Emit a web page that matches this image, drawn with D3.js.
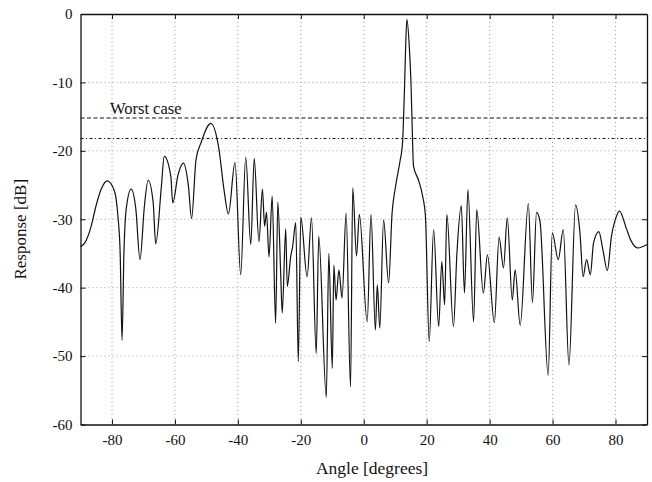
<!DOCTYPE html>
<html>
<head>
<meta charset="utf-8">
<script src="https://cdn.jsdelivr.net/npm/d3@7"></script>
<style>
  html, body { margin: 0; padding: 0; background: #fff; }
  svg { display: block; }
  svg text { font-family: "Times New Roman", "Liberation Serif", Times, serif; fill: #111; }
</style>
</head>
<body>
<svg id="chart" width="652" height="482"></svg>
<script>
// ---- data ----
const angles = [
  -90, -88.7, -86.6, -85.1, -83.5, -81.5, -79.2, -78.1, -77.4, -76.8,
  -76.2, -75.5, -73.9, -72.4, -71.1, -69.7, -68.5, -66.9, -66.1, -64.3,
  -63.4, -61.3, -60.7, -59.0, -57.3, -55.7, -54.7, -53.3, -51.7, -48.6,
  -46.0, -44.4, -43.0, -40.9, -39.1, -37.5, -35.9, -34.8, -33.3, -32.2,
  -31.5, -30.9, -30.1, -29.1, -28.0, -27.3, -26.4, -25.9, -24.8, -24.3,
  -23.2, -22.6, -21.6, -20.8, -20.0, -18.0, -16.6, -15.1, -14.3, -11.9,
  -11.1, -10.0, -9.5, -8.8, -7.9, -6.9, -5.6, -4.2, -3.5, -2.3,
  -1.4, 1.1, 2.3, 3.7, 4.3, 5.1, 6.3, 7.9, 9.0, 10.0,
  11.6, 12.3, 13.0, 13.3, 13.7, 14.5, 15.0, 15.3, 15.8, 17.4,
  18.7, 19.6, 20.8, 22.2, 23.8, 24.8, 25.7, 26.4, 28.5, 29.6,
  31.0, 32.0, 33.1, 34.9, 35.9, 38.0, 39.3, 41.5, 43.0, 44.4,
  45.6, 47.2, 48.1, 49.7, 52.3, 53.6, 54.9, 56.0, 58.6, 59.9,
  61.8, 63.4, 65.2, 67.3, 68.7, 69.7, 70.8, 72.0, 73.0, 74.7,
  76.0, 77.4, 78.7, 79.9, 81.3, 83.4, 85.0, 87.1, 90
];
const responseDb = [
  -34.0, -33.5, -31.0, -28.1, -25.7, -24.4, -25.9, -29.6, -34.9, -47.7,
  -34.9, -28.6, -25.6, -28.6, -35.9, -28.1, -24.3, -27.6, -33.6, -25.2,
  -20.8, -23.7, -27.6, -23.5, -21.8, -25.2, -29.9, -21.3, -18.8, -16.0,
  -19.8, -25.7, -29.2, -21.7, -38.1, -20.9, -33.7, -21.1, -33.3, -25.6,
  -31.0, -29.0, -35.5, -26.6, -45.2, -27.5, -37.8, -43.7, -31.4, -39.8,
  -35.4, -34.0, -30.5, -50.8, -29.7, -38.4, -29.8, -49.6, -32.5, -56.0,
  -35.0, -51.8, -36.7, -41.8, -37.4, -41.5, -29.1, -54.5, -25.4, -35.4,
  -29.3, -45.0, -29.3, -46.2, -39.6, -45.9, -30.1, -39.3, -29.1, -25.5,
  -21.3, -19.0, -10.0, -5.0, -0.8, -5.0, -10.0, -14.9, -22.2, -24.3,
  -26.6, -29.6, -47.9, -31.5, -45.7, -36.2, -42.5, -29.3, -45.7, -35.0,
  -28.0, -40.8, -25.7, -45.0, -28.6, -40.8, -35.2, -45.1, -32.6, -37.1,
  -29.8, -41.8, -37.4, -45.5, -27.7, -42.2, -29.0, -30.3, -52.8, -32.0,
  -35.9, -31.5, -51.3, -27.9, -32.0, -38.4, -35.9, -38.1, -33.5, -31.8,
  -34.5, -37.5, -32.5, -30.1, -28.8, -31.3, -33.2, -34.2, -33.7
];
const xTicks = [-80, -60, -40, -20, 0, 20, 40, 60, 80];
const yTicks = [0, -10, -20, -30, -40, -50, -60];
const worstCaseDb = -15.2;
const secondLevelDb = -18.2;
const worstCaseLabel = "Worst case";
const xLabel = "Angle [degrees]";
const yLabel = "Response [dB]";

// ---- drawing ----
const FONT = '"Times New Roman", "Liberation Serif", Times, serif';
const svg = d3.select("#chart");
const L = 80.5, R = 647, T = 14, B = 424.5;

const x = d3.scaleLinear().domain([-90, 90]).range([L, R]);
const y = d3.scaleLinear().domain([-60, 0]).range([B, T]);

// grid
const grid = svg.append("g").attr("stroke", "#888").attr("stroke-width", 0.8)
  .attr("stroke-dasharray", "1,3");
xTicks.forEach(v => grid.append("line")
  .attr("x1", x(v)).attr("x2", x(v)).attr("y1", T).attr("y2", B));
yTicks.filter(v => v > -60 && v < 0).forEach(v => grid.append("line")
  .attr("x1", L).attr("x2", R).attr("y1", y(v)).attr("y2", y(v)));

// reference levels
svg.append("line")
  .attr("x1", L).attr("x2", R)
  .attr("y1", y(worstCaseDb)).attr("y2", y(worstCaseDb))
  .attr("stroke", "#111").attr("stroke-width", 1)
  .attr("stroke-dasharray", "4,2.5");
svg.append("line")
  .attr("x1", L).attr("x2", R)
  .attr("y1", y(secondLevelDb)).attr("y2", y(secondLevelDb))
  .attr("stroke", "#111").attr("stroke-width", 1)
  .attr("stroke-dasharray", "3,2.5,1,2.5");

svg.append("text")
  .attr("x", x(-80) - 2).attr("y", y(worstCaseDb) - 4)
  .attr("font-family", FONT).attr("font-size", 16.5)
  .text(worstCaseLabel);

// response curve
const pts = angles.map((a, i) => [a, responseDb[i]]);
const line = d3.line()
  .x(d => x(d[0])).y(d => y(d[1]))
  .curve(d3.curveMonotoneX);
svg.append("path")
  .datum(pts)
  .attr("d", line)
  .attr("fill", "none")
  .attr("stroke", "#111")
  .attr("stroke-width", 1.2);

// axes (box with inward ticks)
const fmt = d => String(d);
const xAxisB = d3.axisBottom(x).tickValues(xTicks).tickFormat(fmt).tickSizeInner(-5).tickSizeOuter(0).tickPadding(10);
const xAxisT = d3.axisTop(x).tickValues(xTicks).tickSizeInner(-5).tickSizeOuter(0).tickFormat("");
const yAxisL = d3.axisLeft(y).tickValues(yTicks).tickFormat(fmt).tickSizeInner(-5).tickSizeOuter(0).tickPadding(8);
const yAxisR = d3.axisRight(y).tickValues(yTicks).tickSizeInner(-5).tickSizeOuter(0).tickFormat("");

function style(g) {
  g.attr("font-family", FONT);
  g.select(".domain").attr("stroke", "#111").attr("stroke-width", 1.3);
  g.selectAll(".tick line").attr("stroke", "#111").attr("stroke-width", 1);
  g.selectAll(".tick text")
    .attr("font-family", FONT)
    .attr("font-size", 15).attr("fill", "#111");
}
svg.append("g").attr("transform", `translate(0,${B})`).call(xAxisB).call(style);
svg.append("g").attr("transform", `translate(0,${T})`).call(xAxisT).call(style);
svg.append("g").attr("transform", `translate(${L},0)`).call(yAxisL).call(style);
svg.append("g").attr("transform", `translate(${R},0)`).call(yAxisR).call(style);

// axis titles
svg.append("text")
  .attr("x", 372).attr("y", 474)
  .attr("text-anchor", "middle").attr("font-family", FONT).attr("font-size", 17.5)
  .text(xLabel);
svg.append("text")
  .attr("transform", `translate(26,${(T + B) / 2 + 10}) rotate(-90)`)
  .attr("text-anchor", "middle").attr("font-family", FONT).attr("font-size", 17)
  .text(yLabel);
</script>
</body>
</html>
